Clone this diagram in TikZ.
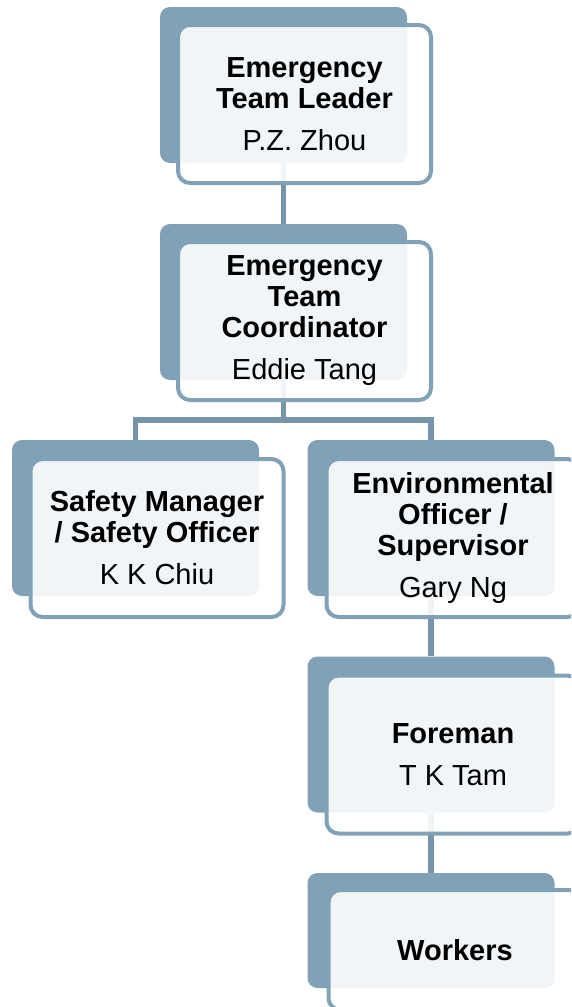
\documentclass[tikz,border=0pt]{standalone}
\usepackage{fontspec}
\setmainfont{Liberation Sans}
\definecolor{orgblue}{RGB}{128,161,182}
\definecolor{orgline}{RGB}{118,149,170}

\begin{document}
\begin{tikzpicture}
  [x=1pt,y=-1pt,
   backbox/.style={rectangle,rounded corners=10pt,fill=orgblue,minimum width=247pt,minimum height=156pt,inner sep=0pt},
   frontbox/.style={rectangle,rounded corners=12pt,draw=orgblue,line width=4pt,fill=white,fill opacity=.9,text opacity=1,
     minimum width=253pt,minimum height=158pt,inner sep=0pt,align=center,font=\fontsize{29}{31}\selectfont}]
  \useasboundingbox (0,0) rectangle (571,1007);
  \clip (0,0) rectangle (571,1007);

  \node[backbox] (leaderbk)  at (283.5,85)  {};
  \node[backbox] (coordbk)   at (283.5,302) {};
  \node[backbox] (safetybk)  at (135.5,518) {};
  \node[backbox] (envbk)     at (431,518)   {};
  \node[backbox] (foremanbk) at (431,734.5) {};
  \node[backbox,minimum height=115pt] (workersbk) at (431,930.5) {};

\foreach \from/\to in
{leaderbk/coordbk, coordbk/safetybk, coordbk/envbk, envbk/foremanbk, foremanbk/workersbk}
    \draw[orgline,line width=5.5pt] (\from.south) -- ++(0,40) -| (\to.north);

  \node[frontbox] (leader)  at (304.5,104) {\textbf{Emergency}\\\textbf{Team Leader}\\[11pt]P.Z. Zhou};
  \node[frontbox] (coord)   at (304.5,321) {\textbf{Emergency}\\\textbf{Team}\\\textbf{Coordinator}\\[11pt]Eddie Tang};
  \node[frontbox] (safety)  at (157,538)   {\textbf{Safety Manager}\\\textbf{/ Safety Officer}\\[11pt]K K Chiu};
  \node[frontbox] (env)     at (453,538)   {\textbf{Environmental}\\\textbf{Officer /}\\\textbf{Supervisor}\\[11pt]Gary Ng};
  \node[frontbox] (foreman) at (453,754.5) {\textbf{Foreman}\\[11pt]T K Tam};
  \node[frontbox,minimum height=120pt] (workers) at (455,950) {\textbf{Workers}};
\end{tikzpicture}
\end{document}
